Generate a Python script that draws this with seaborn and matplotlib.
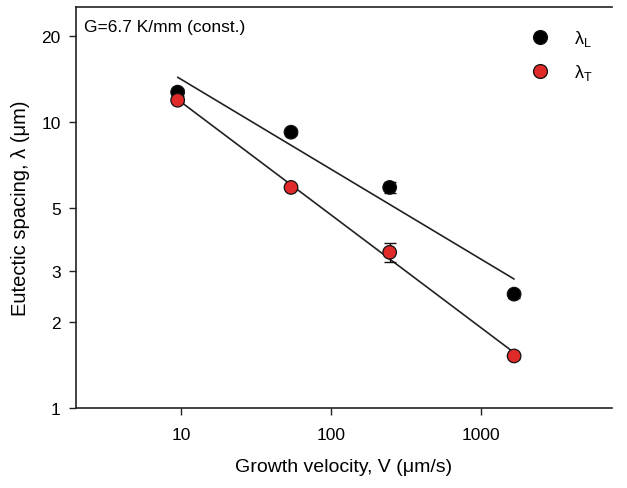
import numpy as np
import pandas as pd
import matplotlib
matplotlib.use("Agg")
import matplotlib.pyplot as plt
import seaborn as sns
from matplotlib.lines import Line2D

# ---- data ----
velocity = [9.5, 54, 245, 1650]             # growth velocity V (um/s)
lambda_L = [12.7, 9.2, 5.9, 2.5]            # eutectic spacing lambda_L (um)
lambda_L_err = [0.35, 0.22, 0.25, 0.07]
lambda_T = [11.9, 5.9, 3.5, 1.52]           # eutectic spacing lambda_T (um)
lambda_T_err = [0.2, 0.12, 0.26, 0.04]
x_ticks = [10, 100, 1000]
y_ticks = [1, 2, 3, 5, 10, 20]
annotation = "G=6.7 K/mm (const.)"

sns.set_theme(style="ticks")
plt.rcParams['font.family'] = ['Liberation Sans', 'DejaVu Sans']
plt.rcParams['mathtext.fontset'] = 'custom'
plt.rcParams['mathtext.rm'] = 'Liberation Sans'
plt.rcParams['mathtext.it'] = 'Liberation Sans'
plt.rcParams['text.color'] = 'black'
plt.rcParams['axes.labelcolor'] = 'black'
plt.rcParams['xtick.color'] = 'black'
plt.rcParams['ytick.color'] = 'black'

fig = plt.figure(figsize=(6.27, 4.89), dpi=100)
W, H = 627, 489
ax = fig.add_axes([76 / W, 1 - 409 / H, (612 - 76) / W, (409 - 8) / H])

df = pd.DataFrame({"V": velocity * 2,
                   "lam": lambda_L + lambda_T,
                   "err": lambda_L_err + lambda_T_err,
                   "series": ["L"] * 4 + ["T"] * 4})

colors = {"L": "#000000", "T": "#e02a2a"}
line_c = "#222222"

# power-law fits (least squares in log-log)
for s in ["L", "T"]:
    d = df[df.series == s]
    p = np.polyfit(np.log10(d.V), np.log10(d.lam), 1)
    xf = np.array([d.V.min(), d.V.max()])
    fit = pd.DataFrame({"V": xf, "lam": 10 ** np.polyval(p, np.log10(xf))})
    sns.lineplot(data=fit, x="V", y="lam", ax=ax, color=line_c, lw=1.2, zorder=2)

for s in ["L", "T"]:
    d = df[df.series == s]
    ax.errorbar(d.V, d.lam, yerr=d.err, fmt="none", ecolor="#111111",
                elinewidth=1.0, capsize=4, capthick=1.0, zorder=3)

sns.scatterplot(data=df, x="V", y="lam", hue="series", palette=colors,
                s=95, edgecolor="#111111", linewidth=0.9, ax=ax, zorder=4,
                legend=False)

ax.set_xscale("log")
ax.set_yscale("log")
ax.set_xlim(2, 7400)
ax.set_ylim(1, 25.2)
ax.set_xticks(x_ticks)
ax.set_xticklabels([str(t) for t in x_ticks])
ax.set_yticks(y_ticks)
ax.set_yticklabels([str(t) for t in y_ticks])
ax.minorticks_off()
ax.tick_params(axis="both", which="major", direction="out", length=5,
               width=1.0, color="#222222", labelsize=12.5, pad=6)
ax.xaxis.set_tick_params(pad=9)

for sp in ["left", "bottom", "top"]:
    ax.spines[sp].set_visible(True)
    ax.spines[sp].set_linewidth(1.2)
    ax.spines[sp].set_color("#222222")
ax.spines["right"].set_visible(False)

ax.set_xlabel("Growth velocity, V (μm/s)", fontsize=14, labelpad=11)
ax.set_ylabel("Eutectic spacing, λ (μm)", fontsize=14.5, labelpad=8)

ax.text(8 / 536, 1 - 12 / 401, annotation, transform=ax.transAxes, fontsize=12.5,
        ha="left", va="top")

# legend
handles = [Line2D([], [], ls="none", marker="o", ms=10, mfc=colors["L"],
                  mec="#111111", mew=0.9),
           Line2D([], [], ls="none", marker="o", ms=10, mfc=colors["T"],
                  mec="#111111", mew=0.9)]
fig.legend(handles, [r"$\lambda_L$", r"$\lambda_T$"], loc="upper left",
           bbox_to_anchor=(531 / W, 1 - 29 / H), frameon=False, fontsize=13,
           handlelength=1.0, handletextpad=1.4, labelspacing=0.78,
           borderaxespad=0, borderpad=0)

fig.savefig("out.png", dpi=100)
